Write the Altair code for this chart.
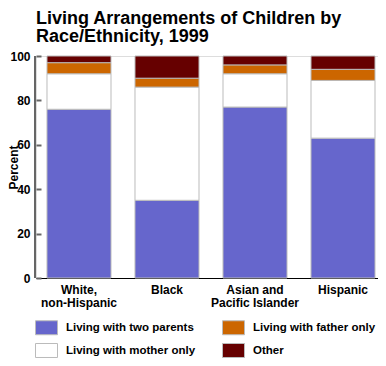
import altair as alt
import pandas as pd

categories = ["White, non-Hispanic", "Black", "Asian and Pacific Islander", "Hispanic"]
label_lines = [["White,", "non-Hispanic"], ["Black"], ["Asian and", "Pacific Islander"], ["Hispanic"]]

series = ["Living with two parents", "Living with mother only", "Living with father only", "Other"]
two_parents = [76, 35, 77, 63]
mother_only = [16, 51, 15, 26]
father_only = [5, 4, 4, 5]
other = [3, 10, 4, 6]

colors = ["#6666CC", "#FFFFFF", "#CC6600", "#660000"]

rows = []
for s_idx, (name, vals) in enumerate(zip(series, [two_parents, mother_only, father_only, other])):
    for cat, v in zip(categories, vals):
        rows.append({"group": cat, "arrangement": name, "value": v, "rank": s_idx})
df = pd.DataFrame(rows)

expr = ""
for cat, lines in zip(categories, label_lines):
    arr = "[" + ",".join("'" + l + "'" for l in lines) + "]"
    expr += f"datum.value == '{cat}' ? {arr} : "
expr += "datum.value"

FONT = "Liberation Sans"

bars = alt.Chart(df).mark_bar(stroke="#bbbbbb", strokeWidth=1).encode(
    x=alt.X("group:N", sort=categories,
            scale=alt.Scale(paddingInner=0.2727, paddingOuter=0.0795, align=0.786),
            axis=alt.Axis(title=None, labelAngle=0, ticks=False, domainColor="black", domainWidth=1,
                          labelFontWeight="bold", labelFontSize=12, labelColor="black", labelFont=FONT,
                          labelPadding=6, labelLineHeight=13, labelExpr=expr)),
    y=alt.Y("value:Q", stack="zero", scale=alt.Scale(domain=[0, 100], nice=False),
            axis=alt.Axis(title="Percent", values=[0, 20, 40, 60, 80, 100], offset=-5, domain=False,
                          tickSize=5, tickColor="#666666", tickWidth=2, grid=False,
                          labelPadding=6, labelFontWeight="bold", labelFontSize=12, labelColor="black",
                          labelFont=FONT, titleFont=FONT, titleFontSize=12, titleFontWeight="bold",
                          titleColor="black", titleX=-21, titleY=111)),
    color=alt.Color("arrangement:N",
                    scale=alt.Scale(domain=series, range=colors),
                    legend=alt.Legend(orient="none", legendX=-1, legendY=260, columns=2, title=None,
                                      symbolType="M-1,-0.636H1V0.636H-1Z", symbolSize=484,
                                      symbolStrokeColor="#bbbbbb", symbolStrokeWidth=1, symbolOpacity=1,
                                      labelFontSize=11.5, labelFont=FONT, labelFontWeight="bold",
                                      labelColor="black", labelOffset=8, columnPadding=24, rowPadding=2)),
    order=alt.Order("rank:Q"),
)

yline = alt.Chart(alt.Data(values=[{}])).mark_rule(color="#666666", strokeWidth=2).encode(
    x=alt.value(-1), y=alt.datum(0), y2=alt.datum(100)
)

chart = alt.layer(bars, yline).properties(
    width=342, height=222,
    title=alt.TitleParams(text=["Living Arrangements of Children by", "Race/Ethnicity, 1999"],
                          anchor="start", fontSize=18, font=FONT, fontWeight="bold", color="black",
                          lineHeight=18.5, offset=18, dy=32, baseline="bottom", frame="group"),
    autosize=alt.AutoSizeParams(type="none"),
    padding={"left": 28, "top": 48, "right": 0, "bottom": 80},
).configure_view(stroke=None).configure(font=FONT, background="white")

chart.save("out.html", embed_options={"renderer": "svg", "actions": False})
